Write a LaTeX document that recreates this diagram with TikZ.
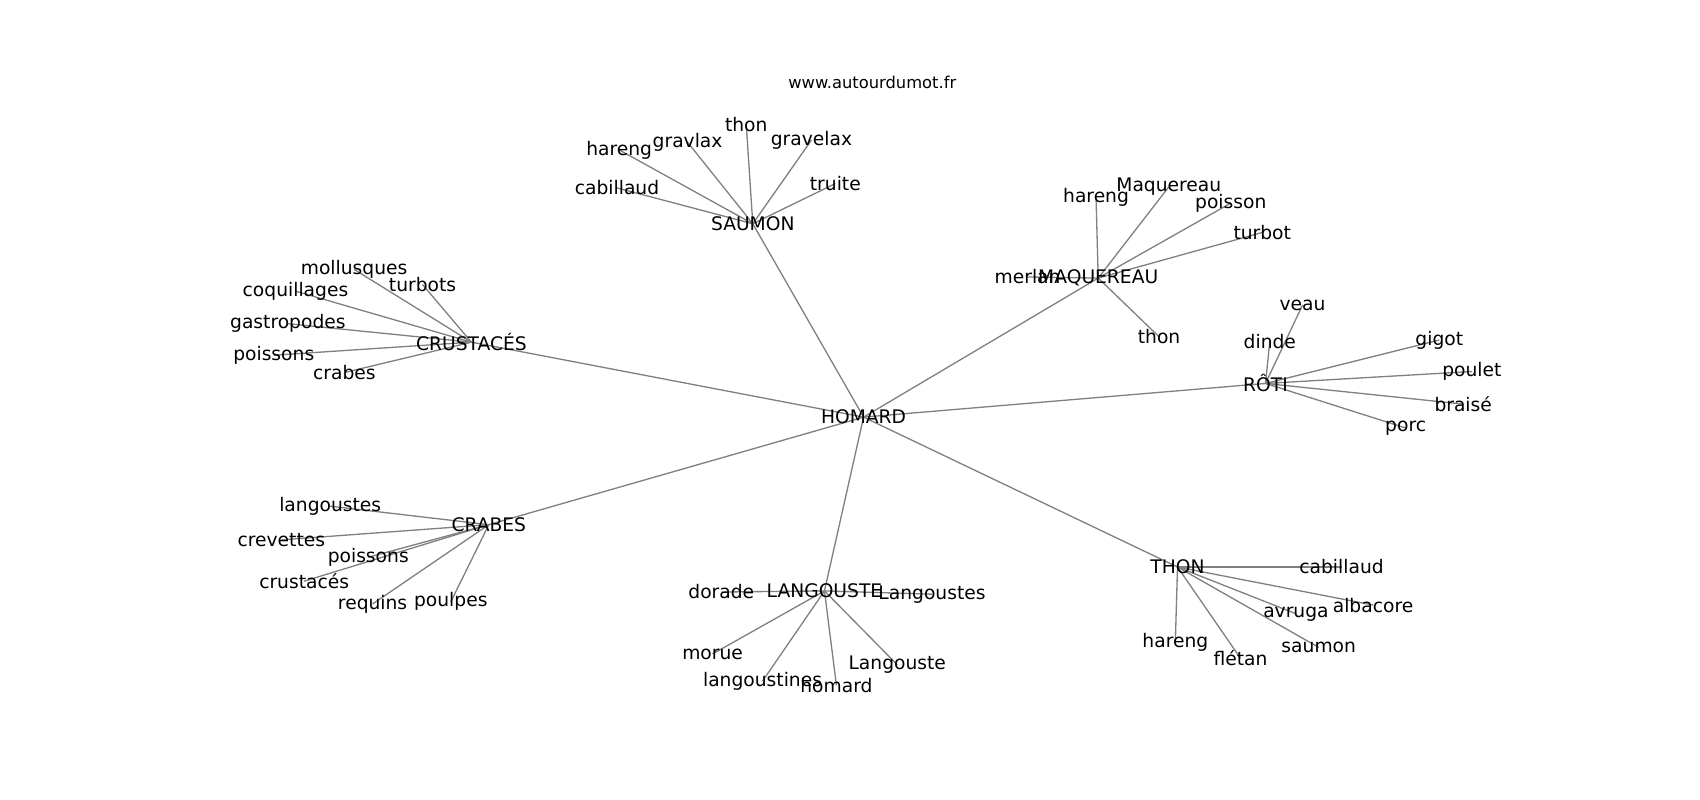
\documentclass[tikz,border=0pt]{standalone}
\usepackage{fontspec}
\setmainfont{DejaVu Sans}
\usetikzlibrary{backgrounds}
\tikzset{
	word/.style={
		font=\fontsize{13.5}{16}\selectfont,
		inner sep=0pt,
		text=black},
	site/.style={
		font=\fontsize{11.8}{14}\selectfont,
		inner sep=0pt},
	edge/.style={draw=black!50, line width=0.95pt},
}

\begin{document}
\begin{tikzpicture}
[x=0.02759cm, y=-0.02759cm]
\useasboundingbox (0,0) rectangle (1565,736.4);
\node[site] (site) at (803,76) {www.autourdumot.fr};

% centre
\node[word] (homard) at (795,384) {HOMARD};

% SAUMON
\node[word] (saum) at (693,206) {SAUMON};
\node[word] (saumHar) at (570,138) {hareng};
\node[word] (saumGra) at (633,131) {gravlax};
\node[word] (saumTho) at (687,115) {thon};
\node[word] (saumGre) at (747,129) {gravelax};
\node[word] (saumTru) at (769,169) {truite};
\node[word] (saumCab) at (568,173) {cabillaud};

% MAQUEREAU
\node[word] (merl) at (946,255) {merlan};
\node[word] (maq) at (1011,256) {MAQUEREAU};
\node[word] (maqHar) at (1009,182) {hareng};
\node[word] (maqMaq) at (1076,172) {Maquereau};
\node[word] (maqPoi) at (1133,187) {poisson};
\node[word] (maqTur) at (1162,214) {turbot};
\node[word] (maqTho) at (1067,310) {thon};

% CRUSTACES
\node[word] (crust) at (434,315) {CRUSTACÉS};
\node[word] (crustMol) at (326,248) {mollusques};
\node[word] (crustTur) at (389,262) {turbots};
\node[word] (crustCoq) at (272,268) {coquillages};
\node[word] (crustGas) at (265,298) {gastropodes};
\node[word] (crustPoi) at (252,327) {poissons};
\node[word] (crustCra) at (317,343) {crabes};

% ROTI
\node[word] (roti) at (1165,353) {RÔTI};
\node[word] (rotiVea) at (1199,281) {veau};
\node[word] (rotiDin) at (1169,314) {dinde};
\node[word] (rotiGig) at (1325,313) {gigot};
\node[word] (rotiPou) at (1355,342) {poulet};
\node[word] (rotiBra) at (1347,372) {braisé};
\node[word] (rotiPor) at (1294,394) {porc};

% CRABES
\node[word] (crab) at (450,483) {CRABES};
\node[word] (crabLan) at (304,466) {langoustes};
\node[word] (crabCre) at (259,497) {crevettes};
\node[word] (crabPoi) at (339,513) {poissons};
\node[word] (crabCru) at (280,535) {crustacés};
\node[word] (crabReq) at (343,556) {requins};
\node[word] (crabPou) at (415,554) {poulpes};

% LANGOUSTE
\node[word] (langDor) at (664,545) {dorade};
\node[word] (lang) at (759,544) {LANGOUSTE};
\node[word] (langLgs) at (858,547) {Langoustes};
\node[word] (langMor) at (656,602) {morue};
\node[word] (langLgt) at (702,627) {langoustines};
\node[word] (langHom) at (770,631) {homard};
\node[word] (langLge) at (826,612) {Langouste};

% THON
\node[word] (thon) at (1084,522) {THON};
\node[word] (thonCab) at (1235,522) {cabillaud};
\node[word] (thonAlb) at (1264,557) {albacore};
\node[word] (thonAvr) at (1193,565) {avruga};
\node[word] (thonSau) at (1214,596) {saumon};
\node[word] (thonFle) at (1142,606) {flétan};
\node[word] (thonHar) at (1082,591) {hareng};

\begin{scope}[on background layer]
\draw[edge] (homard.center) -- (saum.center);
\draw[edge] (homard.center) -- (maq.center);
\draw[edge] (homard.center) -- (crust.center);
\draw[edge] (homard.center) -- (roti.center);
\draw[edge] (homard.center) -- (crab.center);
\draw[edge] (homard.center) -- (lang.center);
\draw[edge] (homard.center) -- (thon.center);

\draw[edge] (saum.center) -- (saumHar.center);
\draw[edge] (saum.center) -- (saumGra.center);
\draw[edge] (saum.center) -- (saumTho.center);
\draw[edge] (saum.center) -- (saumGre.center);
\draw[edge] (saum.center) -- (saumTru.center);
\draw[edge] (saum.center) -- (saumCab.center);

\draw[edge] (maq.center) -- (merl.center);
\draw[edge] (maq.center) -- (maqHar.center);
\draw[edge] (maq.center) -- (maqMaq.center);
\draw[edge] (maq.center) -- (maqPoi.center);
\draw[edge] (maq.center) -- (maqTur.center);
\draw[edge] (maq.center) -- (maqTho.center);

\draw[edge] (crust.center) -- (crustMol.center);
\draw[edge] (crust.center) -- (crustTur.center);
\draw[edge] (crust.center) -- (crustCoq.center);
\draw[edge] (crust.center) -- (crustGas.center);
\draw[edge] (crust.center) -- (crustPoi.center);
\draw[edge] (crust.center) -- (crustCra.center);

\draw[edge] (roti.center) -- (rotiVea.center);
\draw[edge] (roti.center) -- (rotiDin.center);
\draw[edge] (roti.center) -- (rotiGig.center);
\draw[edge] (roti.center) -- (rotiPou.center);
\draw[edge] (roti.center) -- (rotiBra.center);
\draw[edge] (roti.center) -- (rotiPor.center);

\draw[edge] (crab.center) -- (crabLan.center);
\draw[edge] (crab.center) -- (crabCre.center);
\draw[edge] (crab.center) -- (crabPoi.center);
\draw[edge] (crab.center) -- (crabCru.center);
\draw[edge] (crab.center) -- (crabReq.center);
\draw[edge] (crab.center) -- (crabPou.center);

\draw[edge] (lang.center) -- (langDor.center);
\draw[edge] (lang.center) -- (langLgs.center);
\draw[edge] (lang.center) -- (langMor.center);
\draw[edge] (lang.center) -- (langLgt.center);
\draw[edge] (lang.center) -- (langHom.center);
\draw[edge] (lang.center) -- (langLge.center);

\draw[edge] (thon.center) -- (thonCab.center);
\draw[edge] (thon.center) -- (thonAlb.center);
\draw[edge] (thon.center) -- (thonAvr.center);
\draw[edge] (thon.center) -- (thonSau.center);
\draw[edge] (thon.center) -- (thonFle.center);
\draw[edge] (thon.center) -- (thonHar.center);
\end{scope}
\end{tikzpicture}
\end{document}
